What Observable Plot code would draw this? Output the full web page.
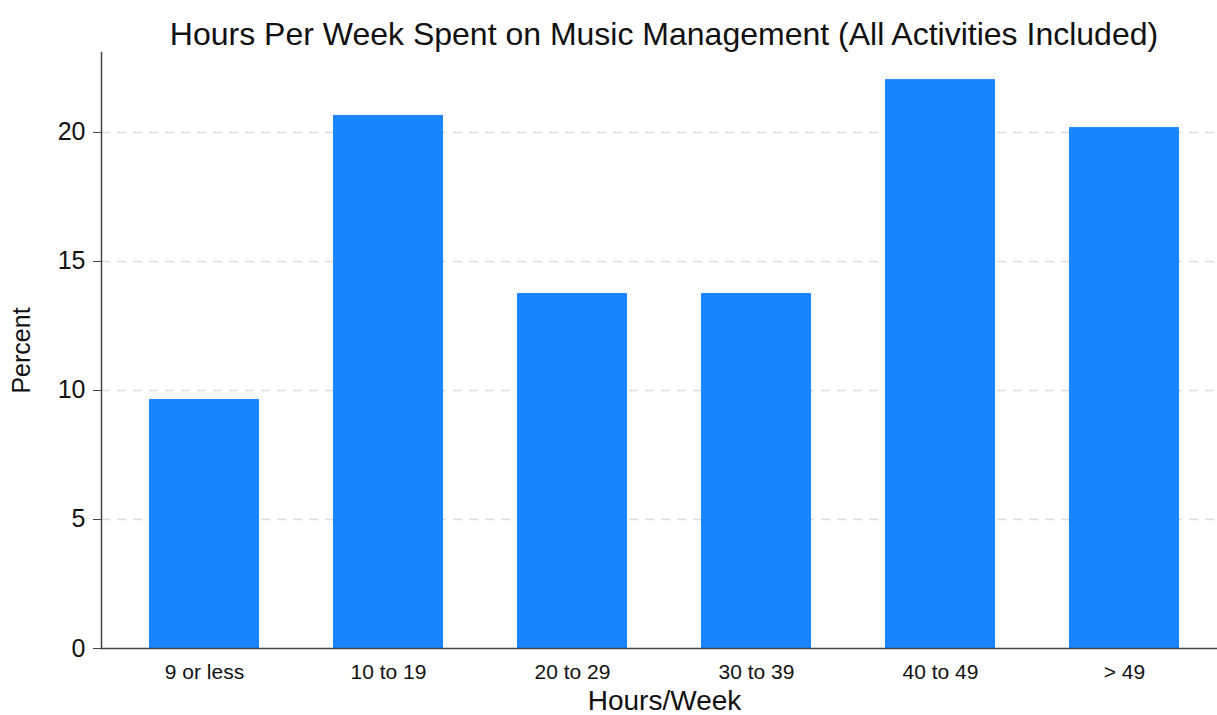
<!DOCTYPE html>
<html><head><meta charset="utf-8">
<script src="https://cdn.jsdelivr.net/npm/d3@7"></script>
<script src="https://cdn.jsdelivr.net/npm/@observablehq/plot@0.6"></script>
<style>
body{margin:0;background:#fff;font-family:"Liberation Sans",Arial,sans-serif;}
#title{height:44px;width:1217px;text-align:center;font-size:32px;line-height:68px;color:#111;padding-left:111px;box-sizing:border-box;white-space:nowrap;}
</style></head>
<body>
<div id="title">Hours Per Week Spent on Music Management (All Activities Included)</div>
<div id="chart"></div>
<script>
const categories = ["9 or less","10 to 19","20 to 29","30 to 39","40 to 49","> 49"];
const percents = [9.65, 20.66, 13.76, 13.76, 22.05, 20.19];
const yTicks = [0,5,10,15,20];
const data = categories.map((c,i)=>({cat:c, pct:percents[i]}));

const chart = Plot.plot({
  width:1217, height:671,
  marginTop:8, marginBottom:67, marginLeft:101, marginRight:0,
  style:{fontFamily:"Liberation Sans, Arial, sans-serif", background:"#fff", color:"#222", overflow:"visible"},
  x:{domain:categories, range:[99,1229], paddingInner:0.4, paddingOuter:0.267, label:null},
  y:{domain:[0,23.1], ticks:yTicks, label:null},
  marks:[
    Plot.gridY(yTicks.filter(d=>d>0), {stroke:"#dcdcdc", strokeOpacity:1, strokeDasharray:"9,7", strokeWidth:1.5}),
    Plot.barY(data,{x:"cat", y:"pct", fill:"#1a85ff"}),
    Plot.ruleY([0],{stroke:"#444", strokeWidth:1.5}),
    Plot.frame({anchor:"left", stroke:"#444", strokeWidth:1.5}),
    Plot.axisY({ticks:yTicks, tickSize:8, tickPadding:8, fontSize:25, stroke:"#444", fill:"#111", label:null}),
    Plot.axisX({tickSize:0, tickPadding:16, fontSize:21, fill:"#111", label:null}),
    Plot.text(["Percent"],{frameAnchor:"left", textAnchor:"middle", dx:-80, rotate:-90, fontSize:25, fill:"#111"}),
    Plot.text(["Hours/Week"],{frameAnchor:"bottom", dx:5, dy:61, fontSize:28, fill:"#111"})
  ]
});
document.getElementById("chart").appendChild(chart);
</script>
</body></html>
